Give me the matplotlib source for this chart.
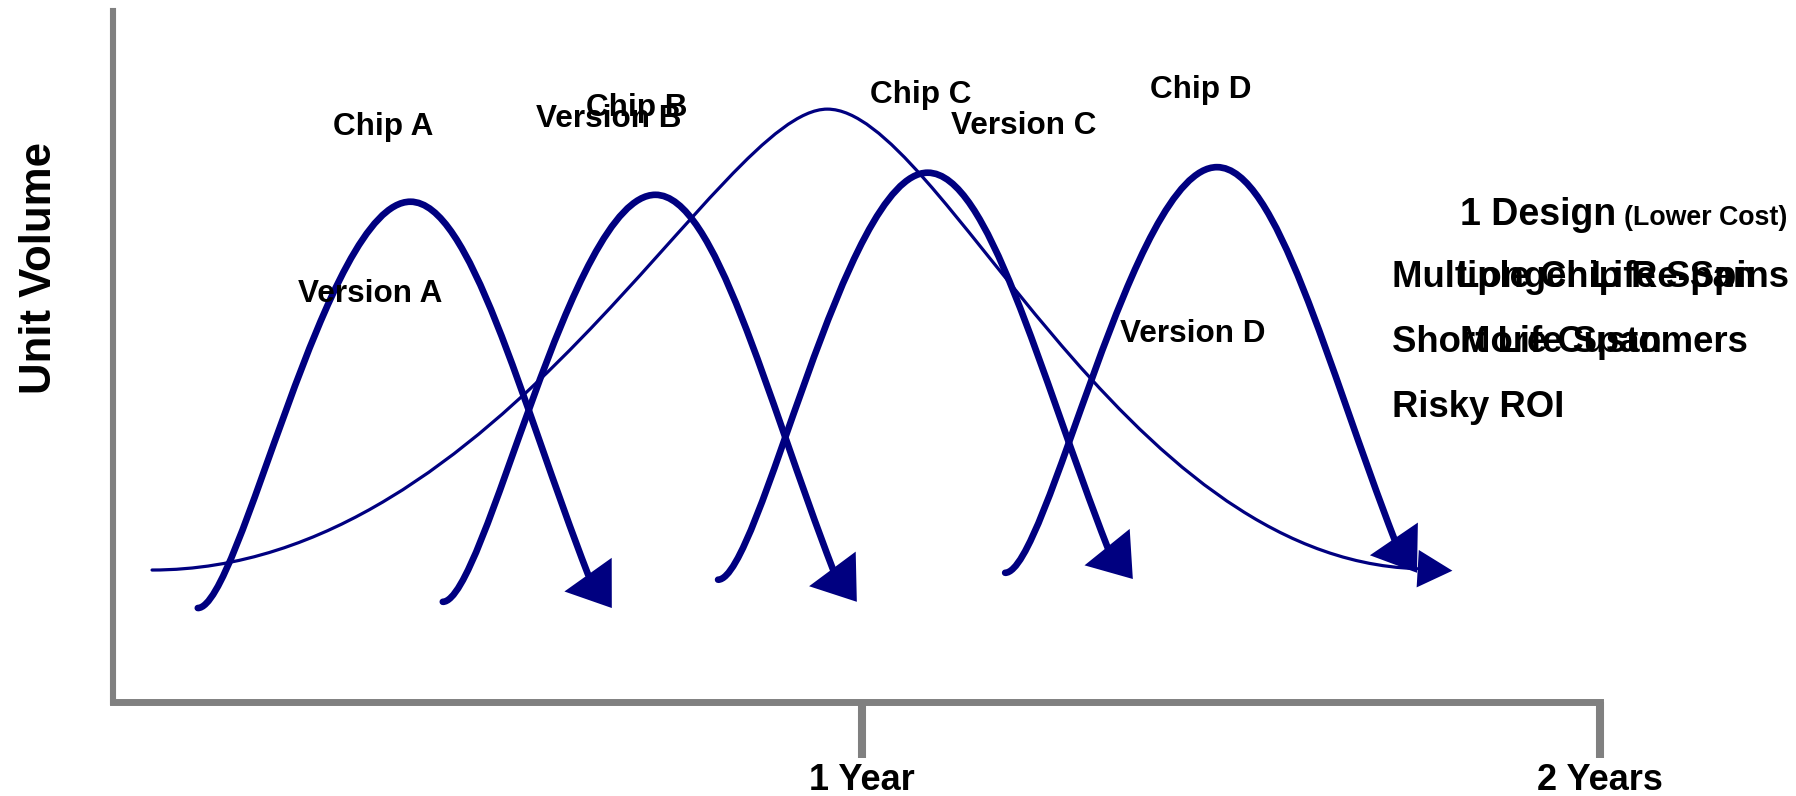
import matplotlib
matplotlib.use("Agg")
import matplotlib.pyplot as plt
from matplotlib.path import Path
from matplotlib.patches import PathPatch, FancyArrowPatch, ArrowStyle

plt.rcParams["font.family"] = ["Liberation Sans", "DejaVu Sans"]
plt.rcParams["font.weight"] = "bold"

NAVY = "#000080"
GREY = "#808080"

# ---- data: x in years, y in % of the volume axis --------------------------
chip_names = ["A", "B", "C", "D"]
launch_x = [0.100, 0.432, 0.805, 1.194]
launch_y = [13.6, 14.5, 17.7, 18.7]
peak_x = [0.388, 0.720, 1.089, 1.481]
peak_y = [72.4, 73.4, 76.6, 77.4]
fall_x = [0.629, 0.961, 1.333, 1.722]
fall_y = [18.4, 19.1, 22.3, 23.4]
tip_x = [0.661, 0.993, 1.367, 1.752]
tip_y = [13.6, 14.5, 17.8, 18.7]

# one design serving the whole market: launch, peak, fall, arrow tip
market_x = [0.038, 0.953, 1.752, 1.800]
market_y = [19.1, 85.8, 19.3, 19.0]

# label anchors (left edge, baseline)
chip_label_x = [0.283, 0.626, 1.011, 1.390]
chip_label_y = [82.0, 84.8, 86.7, 87.4]
version_label_x = [0.236, 0.558, 1.121, 1.350]
version_label_y = [57.9, 83.2, 82.2, 52.1]

x_ticks = [1, 2]
x_tick_labels = ["1 Year", "2 Years"]

side_notes = [
    ("Multiple Chip Re-Spins", 1.718, 60.1),
    ("Longer Life Span", 1.806, 60.1),
    ("Short Life Span", 1.718, 50.7),
    ("More Customers", 1.810, 50.7),
    ("Risky ROI", 1.718, 41.2),
]
design_note = ("1 Design", 1.810, 69.0)
design_sub = ("(Lower Cost)", 2.033, 69.0)

# curve shape handles (fractions of the rise / fall spans)
CHIP_HANDLES = (0.198, 0.40, 0.337, 0.618, 0.53)
MARKET_HANDLES = (0.516, 0.159, 0.19, 0.497, 0.98)


def bell_path(x0, y0, xp, yp, x1, y1, h):
    verts = [
        (x0, y0),
        (x0 + h[0] * (xp - x0), y0),
        (xp - h[1] * (xp - x0), yp),
        (xp, yp),
        (xp + h[2] * (x1 - xp), yp),
        (xp + h[3] * (x1 - xp), yp + h[4] * (y1 - yp)),
        (x1, y1),
    ]
    codes = [Path.MOVETO] + [Path.CURVE4] * 6
    return Path(verts, codes)


def draw_curve(ax, xs, ys, tip, h, lw, head):
    path = bell_path(xs[0], ys[0], xs[1], ys[1], xs[2], ys[2], h)
    ax.add_patch(PathPatch(path, fill=False, edgecolor=NAVY, lw=lw,
                           capstyle="round", joinstyle="round", zorder=3))
    ax.add_patch(FancyArrowPatch((xs[2], ys[2]), tip,
                                 arrowstyle=ArrowStyle("-|>", head_length=head[0],
                                                       head_width=head[1]),
                                 mutation_scale=1, lw=0, color=NAVY,
                                 shrinkA=0, shrinkB=0, zorder=4))


fig = plt.figure(figsize=(17.96, 7.96), dpi=100)
ax = fig.add_axes([113 / 1796, 1 - 702 / 796, (1600 - 113) / 1796, 691 / 796])
ax.set_xlim(-0.0149, 2.0)
ax.set_ylim(0, 100)

for side in ("top", "right"):
    ax.spines[side].set_visible(False)
ax.spines["left"].set_color(GREY)
ax.spines["left"].set_linewidth(4.4)
ax.spines["bottom"].set_color(GREY)
ax.spines["bottom"].set_linewidth(5.0)

ax.set_yticks([])
ax.set_xticks(x_ticks, x_tick_labels)
ax.tick_params(axis="x", direction="out", length=40, width=5.8, color=GREY,
               pad=4, labelsize=26)
for lbl in ax.get_xticklabels():
    lbl.set_fontweight("bold")

ax.set_ylabel("Unit Volume", fontsize=31.5, fontweight="bold", va="center")
ax.yaxis.set_label_coords(-0.0491, 0.628)

# market curve for the single design
draw_curve(ax, market_x[:3], market_y[:3], (market_x[3], market_y[3]),
           MARKET_HANDLES, 2.3, (25.0, 13.5))

# successive chip versions
for i in range(len(chip_names)):
    draw_curve(ax,
               [launch_x[i], peak_x[i], fall_x[i]],
               [launch_y[i], peak_y[i], fall_y[i]],
               (tip_x[i], tip_y[i]), CHIP_HANDLES, 4.8, (29.5, 20.9))

for i, name in enumerate(chip_names):
    ax.text(chip_label_x[i], chip_label_y[i], f"Chip {name}", fontsize=22.7,
            fontweight="bold", ha="left", va="baseline", zorder=5)
    ax.text(version_label_x[i], version_label_y[i], f"Version {name}",
            fontsize=22.7, fontweight="bold", ha="left", va="baseline", zorder=5)

ax.text(design_note[1], design_note[2], design_note[0], fontsize=27,
        fontweight="bold", ha="left", va="baseline", clip_on=False)
ax.text(design_sub[1], design_sub[2], design_sub[0], fontsize=19.3,
        fontweight="bold", ha="left", va="baseline", clip_on=False)
for text, x, y in side_notes:
    ax.text(x, y, text, fontsize=26.3, fontweight="bold", ha="left",
            va="baseline", clip_on=False)

fig.savefig("out.png", dpi=100)
